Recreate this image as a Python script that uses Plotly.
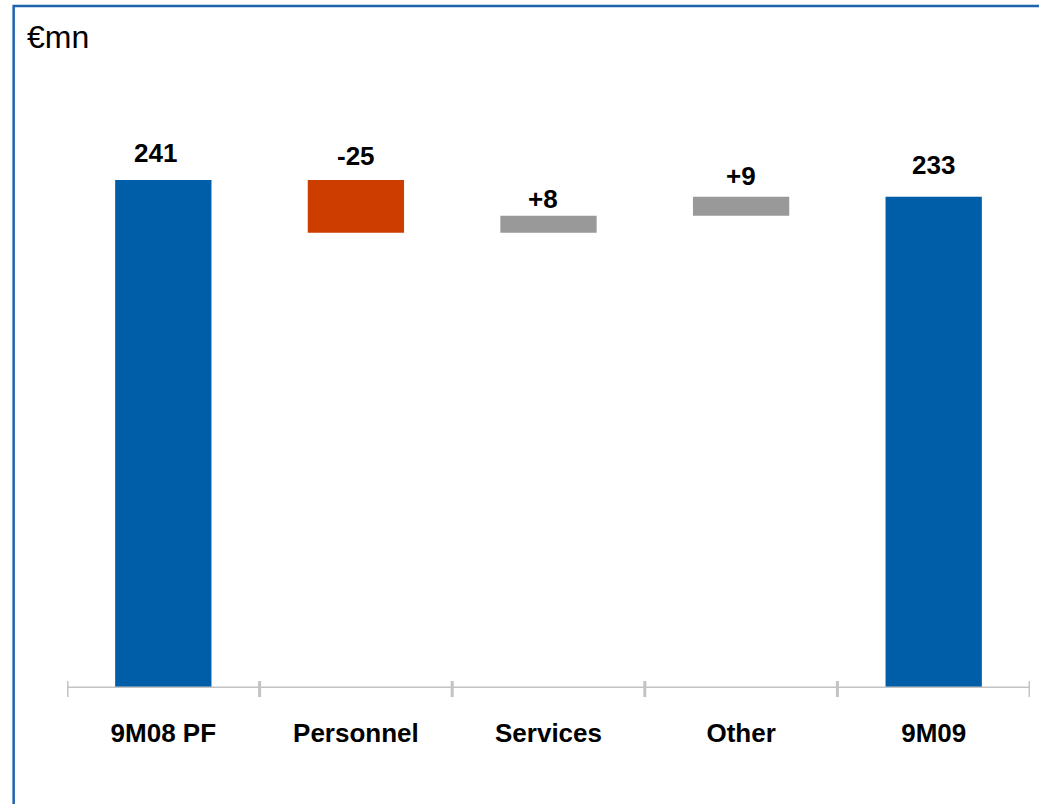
import plotly.graph_objects as go

# Operating cost bridge, €mn
categories = ["9M08 PF", "Personnel", "Services", "Other", "9M09"]
measures = ["total", "relative", "relative", "relative", "total"]
values = [241, -25, 8, 9, 233]
value_labels = ["241", "-25", "+8", "+9", "233"]

BLUE = "#005EA8"
RED = "#CC3D00"
GREY = "#999999"
AXIS_GREY = "#C3C3C3"
FONT = "Liberation Sans, Arial, Helvetica, sans-serif"

# Build floating bars: totals start at zero, changes float off the running total
bases, heights, colors, tops = [], [], [], []
running = 0
for m, v in zip(measures, values):
    if m == "total":
        bases.append(0)
        heights.append(v)
        colors.append(BLUE)
        running = v
        tops.append(v)
    else:
        new = running + v
        lo, hi = min(running, new), max(running, new)
        bases.append(lo)
        heights.append(hi - lo)
        colors.append(GREY if v > 0 else RED)
        tops.append(hi)
        running = new

fig = go.Figure(
    go.Bar(
        x=categories,
        y=heights,
        base=bases,
        marker=dict(color=colors, line=dict(width=0)),
        width=0.5,
        hoverinfo="skip",
    )
)

# value labels above each bar (pixel nudges per label)
label_dy = [27, 24, 17, 21, 32]
label_dx = [-8, 0, -6, 0, 0]
for cat, top, txt, dy, dx in zip(categories, tops, value_labels, label_dy, label_dx):
    fig.add_annotation(
        x=cat, y=top, text=f"<b>{txt}</b>", showarrow=False,
        yanchor="middle", xanchor="center", yshift=dy, xshift=dx,
        font=dict(family=FONT, size=26, color="#000000"),
    )

# unit label
fig.add_annotation(
    x=-0.0435, y=1.0707, xref="paper", yref="paper", text="€mn",
    showarrow=False, xanchor="left", yanchor="middle",
    font=dict(family=FONT, size=32, color="#000000"),
)

# tick marks at category boundaries, crossing the baseline
n = len(categories)
for i in range(n + 1):
    fig.add_shape(
        type="line", xref="x", yref="paper",
        x0=i - 0.5, x1=i - 0.5, y0=-9 / 608, y1=7 / 608,
        line=dict(color=AXIS_GREY, width=3), layer="above",
    )
fig.add_shape(
    type="line", xref="paper", yref="y", x0=0, x1=1, y0=0, y1=0,
    line=dict(color=AXIS_GREY, width=3), layer="above",
)

# frame around the chart
fig.add_shape(
    type="rect", xref="paper", yref="paper",
    x0=-0.0554, x1=1.2, y0=-0.5, y1=1.1217,
    line=dict(color="#1F62AD", width=2.5), fillcolor="rgba(0,0,0,0)",
)

fig.update_layout(
    width=1039, height=804,
    margin=dict(l=67, r=9, t=80, b=116),
    paper_bgcolor="white", plot_bgcolor="white",
    showlegend=False,
    bargap=0.5,
    xaxis=dict(
        type="category", range=[-0.5, n - 0.5],
        showgrid=False, zeroline=False, showline=False, ticks="",
        tickfont=dict(family=FONT, size=26, color="#000000"),
        tickvals=categories, ticktext=[f"<b>{c}</b>" for c in categories],
        ticklabelstandoff=27,
    ),
    yaxis=dict(
        range=[0, 288.4], visible=False, showgrid=False, zeroline=False,
    ),
)

fig.write_html("out.html")
